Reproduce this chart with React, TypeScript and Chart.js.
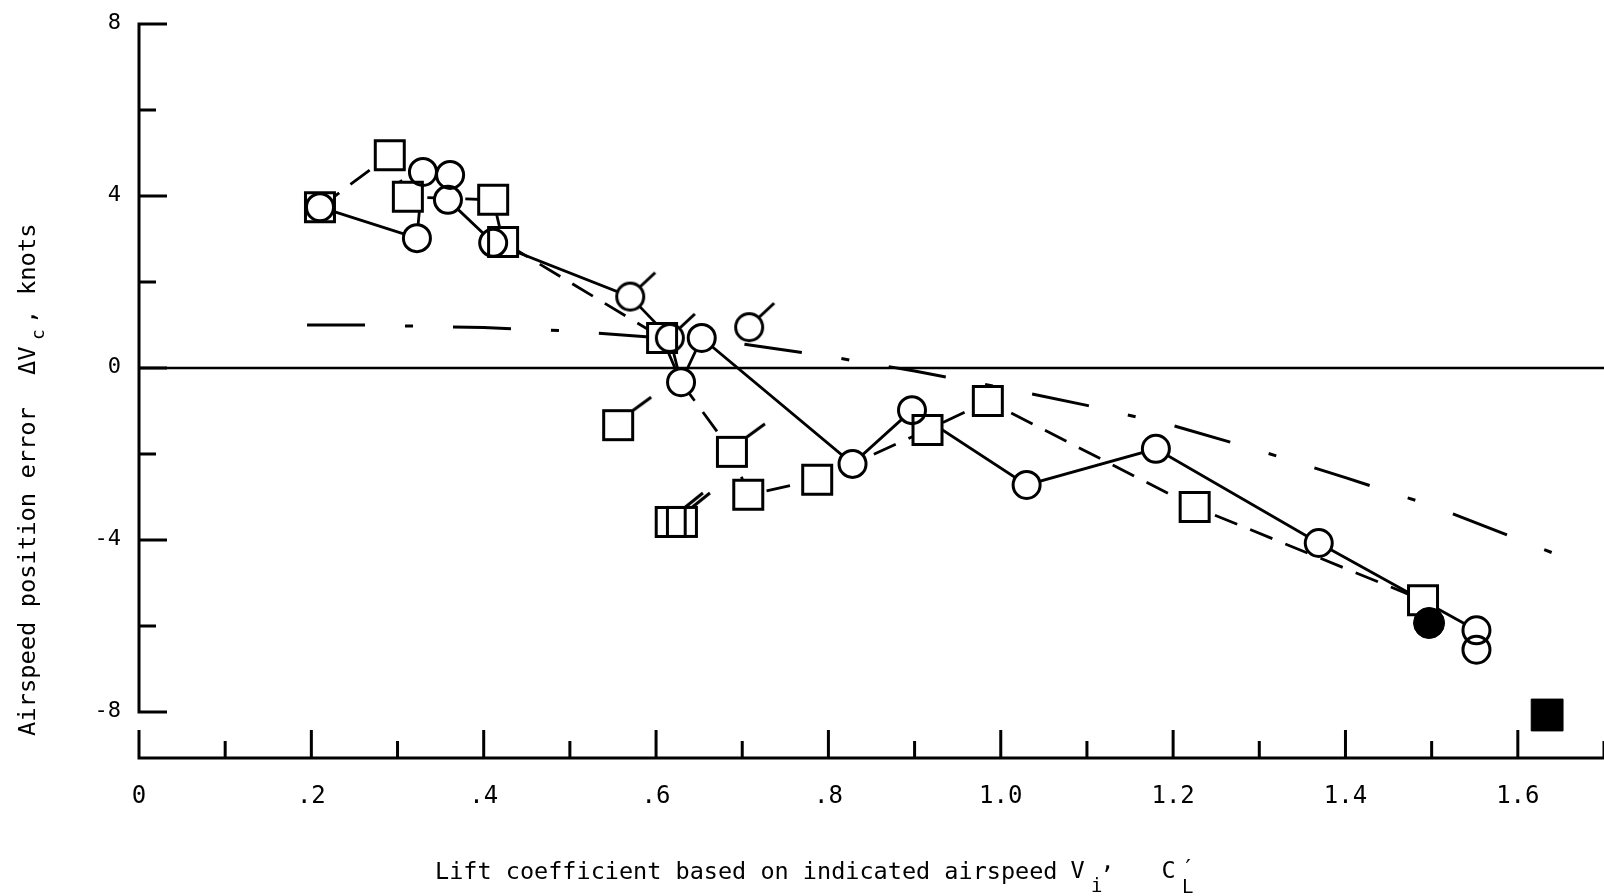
import React, { useEffect, useRef } from "react";
import { Chart, registerables } from "chart.js";

Chart.register(...registerables);

// ---------------- data ----------------
// open circles (no flag)
const OPEN_CIRCLE_X = [0.21, 0.3225, 0.3295, 0.361, 0.3585, 0.411, 0.653, 0.629, 0.828, 0.897, 1.03, 1.18, 1.369, 1.552, 1.552];
const OPEN_CIRCLE_Y = [3.74, 3.02, 4.56, 4.49, 3.91, 2.91, 0.7, -0.33, -2.23, -0.98, -2.72, -1.88, -4.07, -6.1, -6.55];
// flagged circles
const FLAG_CIRCLE_X = [0.57, 0.616, 0.708];
const FLAG_CIRCLE_Y = [1.66, 0.7, 0.95];
// open squares (no flag)
const OPEN_SQUARE_X = [0.21, 0.291, 0.312, 0.411, 0.4225, 0.607, 0.707, 0.787, 0.617, 0.915, 0.985, 1.225, 1.49];
const OPEN_SQUARE_Y = [3.74, 4.95, 3.98, 3.91, 2.93, 0.7, -2.95, -2.6, -3.58, -1.44, -0.77, -3.23, -5.4];
// flagged squares
const FLAG_SQUARE_X = [0.556, 0.688];
const FLAG_SQUARE_Y = [-1.33, -1.95];
// double-flagged square
const DOUBLE_FLAG_SQUARE_X = [0.63];
const DOUBLE_FLAG_SQUARE_Y = [-3.58];
// solid symbols
const FILLED_CIRCLE_X = [1.497];
const FILLED_CIRCLE_Y = [-5.93];
const FILLED_SQUARE_X = [1.634];
const FILLED_SQUARE_Y = [-8.07];

// faired lines
const SOLID_PATH_X = [0.21, 0.3225, 0.3295, 0.361, 0.3585, 0.411, 0.57, 0.616, 0.629, 0.653, 0.828, 0.897, 1.03, 1.18, 1.369, 1.552];
const SOLID_PATH_Y = [3.74, 3.02, 4.56, 4.49, 3.91, 2.91, 1.66, 0.7, -0.33, 0.7, -2.23, -0.98, -2.72, -1.88, -4.07, -6.1];
const DASHED_PATH_X = [0.21, 0.291, 0.312, 0.411, 0.4225, 0.607, 0.629, 0.688, 0.707, 0.787, 0.828, 0.915, 0.985, 1.225, 1.49];
const DASHED_PATH_Y = [3.74, 4.95, 3.98, 3.91, 2.93, 0.7, -0.33, -1.95, -2.95, -2.6, -2.23, -1.44, -0.77, -3.23, -5.4];
const DASHDOT_X = [0.195, 0.26, 0.4, 0.5, 0.6, 0.7, 0.8, 0.9, 1.0, 1.1, 1.2, 1.3, 1.4, 1.5, 1.6, 1.667];
const DASHDOT_Y = [1.0, 1.0, 0.94, 0.86, 0.71, 0.56, 0.27, -0.07, -0.45, -0.87, -1.34, -1.92, -2.55, -3.2, -3.98, -4.51];
const ZERO_LINE_X = [0, 1.7];
const ZERO_LINE_Y = [0, 0];

// axes
const X_MAJOR_TICKS = [0, 0.2, 0.4, 0.6, 0.8, 1.0, 1.2, 1.4, 1.6];
const X_TICK_LABELS = ["0", ".2", ".4", ".6", ".8", "1.0", "1.2", "1.4", "1.6"];
const X_MINOR_TICKS = [0.1, 0.3, 0.5, 0.7, 0.9, 1.1, 1.3, 1.5, 1.7];
const Y_MAJOR_TICKS = [8, 4, 0, -4, -8];
const Y_TICK_LABELS = ["8", "4", "0", "-4", "-8"];
const Y_MINOR_TICKS = [6, 2, -2, -6];

const X_TITLE = "Lift coefficient based on indicated airspeed";
const Y_TITLE = "Airspeed position error";

// ---------------- helpers ----------------
const pts = (xs: number[], ys: number[]) => xs.map((x, i) => ({ x, y: ys[i] }));
const MONO = '"DejaVu Sans Mono", monospace';
const R_CIRCLE = 13.5;
const R_SQUARE = 20.5; // rect side = 2 * R * sqrt(1/2)
const HALF_SQ = R_SQUARE * Math.SQRT1_2;

function makeFlagImage(kind: "circle" | "square" | "double"): HTMLCanvasElement {
  const S = 90;
  const c = document.createElement("canvas");
  c.width = S;
  c.height = S;
  const g = c.getContext("2d")!;
  const cx = S / 2;
  const cy = S / 2;
  g.strokeStyle = "#000";
  g.lineWidth = 3;
  g.beginPath();
  if (kind === "circle") {
    g.arc(cx, cy, R_CIRCLE, 0, Math.PI * 2);
    g.moveTo(cx + 10, cy - 10);
    g.lineTo(cx + 25, cy - 24);
  } else {
    g.rect(cx - HALF_SQ, cy - HALF_SQ, HALF_SQ * 2, HALF_SQ * 2);
    if (kind === "square") {
      g.moveTo(cx + HALF_SQ, cy - HALF_SQ);
      g.lineTo(cx + 33, cy - 28);
    } else {
      g.moveTo(cx + 3, cy - HALF_SQ);
      g.lineTo(cx + 21, cy - 29);
      g.moveTo(cx + 10, cy - HALF_SQ);
      g.lineTo(cx + 28, cy - 29);
    }
  }
  g.stroke();
  return c;
}

const bgPlugin = {
  id: "paperBg",
  beforeDraw(chart: any) {
    const { ctx, width, height } = chart;
    ctx.save();
    ctx.fillStyle = "#fff";
    ctx.fillRect(0, 0, width, height);
    ctx.restore();
  },
};

const axesPlugin = {
  id: "paperAxes",
  afterDatasetsDraw(chart: any) {
    const { ctx, chartArea } = chart;
    const xs = chart.scales.x;
    const ys = chart.scales.y;
    ctx.save();
    ctx.strokeStyle = "#000";
    ctx.fillStyle = "#000";
    ctx.lineWidth = 3;
    ctx.lineCap = "butt";

    // y axis (from +8 to -8)
    const x0 = xs.getPixelForValue(0);
    const yTop = ys.getPixelForValue(Math.max(...Y_MAJOR_TICKS));
    const yBot = ys.getPixelForValue(Math.min(...Y_MAJOR_TICKS));
    ctx.beginPath();
    ctx.moveTo(x0, yTop - 1.5);
    ctx.lineTo(x0, yBot + 1.5);
    Y_MAJOR_TICKS.forEach((v) => {
      const p = ys.getPixelForValue(v);
      ctx.moveTo(x0, p);
      ctx.lineTo(x0 + 28, p);
    });
    Y_MINOR_TICKS.forEach((v) => {
      const p = ys.getPixelForValue(v);
      ctx.moveTo(x0, p);
      ctx.lineTo(x0 + 17, p);
    });
    ctx.stroke();

    // x axis along the bottom of the plot area
    const yAx = chartArea.bottom;
    ctx.beginPath();
    ctx.moveTo(x0 - 1.5, yAx);
    ctx.lineTo(chartArea.right, yAx);
    X_MAJOR_TICKS.forEach((v) => {
      const p = xs.getPixelForValue(v);
      ctx.moveTo(p, yAx);
      ctx.lineTo(p, yAx - 28);
    });
    X_MINOR_TICKS.forEach((v) => {
      const p = xs.getPixelForValue(v);
      ctx.moveTo(p, yAx);
      ctx.lineTo(p, yAx - 17);
    });
    ctx.stroke();

    // tick labels
    ctx.font = `22px ${MONO}`;
    ctx.textAlign = "right";
    ctx.textBaseline = "middle";
    Y_MAJOR_TICKS.forEach((v, i) => {
      ctx.fillText(Y_TICK_LABELS[i], x0 - 18, ys.getPixelForValue(v) - 1);
    });
    ctx.font = `24px ${MONO}`;
    ctx.textAlign = "center";
    X_MAJOR_TICKS.forEach((v, i) => {
      ctx.fillText(X_TICK_LABELS[i], xs.getPixelForValue(v), yAx + 39);
    });

    // x title: Lift coefficient based on indicated airspeed  V_i,  C_L'
    ctx.textAlign = "left";
    ctx.textBaseline = "alphabetic";
    ctx.font = `23.5px ${MONO}`;
    ctx.fillText(X_TITLE, 435, 879);
    ctx.fillText("V", 1070.5, 878);
    ctx.fillText(",", 1100.5, 869);
    ctx.fillText("C", 1161.5, 878);
    ctx.fillText("\u2032", 1181, 876);
    ctx.font = `19px ${MONO}`;
    ctx.fillText("i", 1091, 892);
    ctx.fillText("L", 1182, 893);

    // y title (rotated): Airspeed position error  ΔV_c, knots
    ctx.save();
    ctx.translate(35, 736);
    ctx.rotate(-Math.PI / 2);
    ctx.font = `23.75px ${MONO}`;
    ctx.fillText(Y_TITLE, 0, 0);
    ctx.fillText("\u0394V", 361, 0);
    ctx.fillText(",", 412, 0);
    ctx.fillText("knots", 441, 0);
    ctx.font = `18px ${MONO}`;
    ctx.fillText("c", 396, 9);
    ctx.restore();

    ctx.restore();
  },
};

export default function App() {
  const ref = useRef<HTMLCanvasElement | null>(null);

  useEffect(() => {
    if (!ref.current) return;
    const flagCircle = makeFlagImage("circle");
    const flagSquare = makeFlagImage("square");
    const flagDouble = makeFlagImage("double");

    const lineBase = {
      showLine: true,
      fill: false,
      tension: 0,
      pointRadius: 0,
      borderColor: "#000",
      clip: false as any,
    };
    const maskBase = {
      showLine: false,
      pointBackgroundColor: "#fff",
      pointBorderColor: "#fff",
      pointBorderWidth: 0,
      clip: false as any,
      order: 5,
    };
    const outlineBase = {
      showLine: false,
      pointBackgroundColor: "rgba(0,0,0,0)",
      pointBorderColor: "#000",
      pointBorderWidth: 3,
      clip: false as any,
      order: 2,
    };

    const chart = new Chart(ref.current, {
      type: "scatter",
      data: {
        datasets: [
          { ...lineBase, label: "zero", data: pts(ZERO_LINE_X, ZERO_LINE_Y), borderWidth: 2.5, order: 10 },
          { ...lineBase, label: "dash-dot", data: pts(DASHDOT_X, DASHDOT_Y), borderWidth: 3, borderDash: [58, 40, 8, 40], order: 9 },
          { ...lineBase, label: "solid", data: pts(SOLID_PATH_X, SOLID_PATH_Y), borderWidth: 2.8, order: 8 },
          { ...lineBase, label: "dashed", data: pts(DASHED_PATH_X, DASHED_PATH_Y), borderWidth: 2.8, borderDash: [24, 14], order: 7 },
          {
            ...maskBase,
            label: "mask circles",
            data: pts(OPEN_CIRCLE_X.concat(FLAG_CIRCLE_X), OPEN_CIRCLE_Y.concat(FLAG_CIRCLE_Y)),
            pointStyle: "circle",
            pointRadius: R_CIRCLE,
          },
          {
            ...maskBase,
            label: "mask squares",
            data: pts(
              OPEN_SQUARE_X.concat(FLAG_SQUARE_X, DOUBLE_FLAG_SQUARE_X),
              OPEN_SQUARE_Y.concat(FLAG_SQUARE_Y, DOUBLE_FLAG_SQUARE_Y)
            ),
            pointStyle: "rect",
            pointRadius: R_SQUARE,
          },
          { ...outlineBase, label: "circles", data: pts(OPEN_CIRCLE_X, OPEN_CIRCLE_Y), pointStyle: "circle", pointRadius: R_CIRCLE },
          { ...outlineBase, label: "squares", data: pts(OPEN_SQUARE_X, OPEN_SQUARE_Y), pointStyle: "rect", pointRadius: R_SQUARE },
          { ...outlineBase, label: "flagged circles", data: pts(FLAG_CIRCLE_X, FLAG_CIRCLE_Y), pointStyle: flagCircle as any, pointRadius: R_CIRCLE },
          { ...outlineBase, label: "flagged squares", data: pts(FLAG_SQUARE_X, FLAG_SQUARE_Y), pointStyle: flagSquare as any, pointRadius: R_SQUARE },
          { ...outlineBase, label: "double-flagged square", data: pts(DOUBLE_FLAG_SQUARE_X, DOUBLE_FLAG_SQUARE_Y), pointStyle: flagDouble as any, pointRadius: R_SQUARE },
          {
            showLine: false, label: "filled circle", data: pts(FILLED_CIRCLE_X, FILLED_CIRCLE_Y), pointStyle: "circle",
            pointRadius: 15.5, pointBackgroundColor: "#000", pointBorderColor: "#000", pointBorderWidth: 1, clip: false as any, order: 0,
          },
          {
            showLine: false, label: "filled square", data: pts(FILLED_SQUARE_X, FILLED_SQUARE_Y), pointStyle: "rect",
            pointRadius: 22.5, pointBackgroundColor: "#000", pointBorderColor: "#000", pointBorderWidth: 1, clip: false as any, order: 0,
          },
        ] as any,
      },
      options: {
        animation: false,
        responsive: false,
        maintainAspectRatio: false,
        devicePixelRatio: 1,
        events: [],
        layout: { autoPadding: false, padding: { left: 139, top: 24, right: 0, bottom: 138 } },
        scales: {
          x: { type: "linear", min: 0, max: 1.7, display: false },
          y: { type: "linear", min: -9.07, max: 8, display: false },
        },
        plugins: { legend: { display: false }, tooltip: { enabled: false } },
      } as any,
      plugins: [bgPlugin, axesPlugin],
    });
    return () => chart.destroy();
  }, []);

  return (
    <div style={{ position: "fixed", left: 0, top: 0, width: 1604, height: 896, background: "#fff" }}>
      <canvas ref={ref} width={1604} height={896} style={{ width: 1604, height: 896, display: "block" }} />
    </div>
  );
}
